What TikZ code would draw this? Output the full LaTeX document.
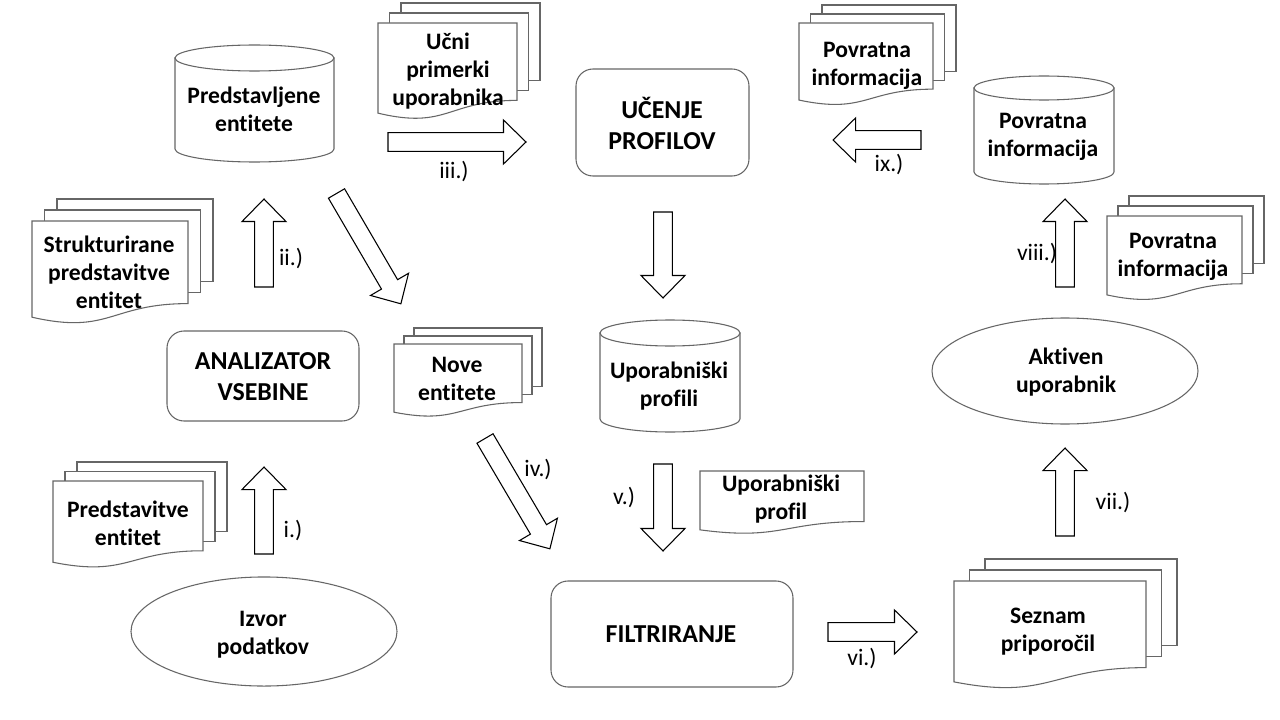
\documentclass[tikz,border=0pt]{standalone}
\usepackage{fontspec}
\setmainfont{Carlito}[Ligatures={NoCommon,NoContextual}]
\usetikzlibrary{calc}
\tikzset{
  shapeline/.style={draw=black!60, line width=0.8pt, fill=white},
  arrowline/.style={draw=black, line width=0.8pt, fill=white, line join=miter},
  doctext/.style={align=center, font=\fontsize{17.7}{21}\selectfont\bfseries, inner sep=0pt},
  boxtext/.style={align=center, font=\fontsize{19.4}{23.25}\selectfont\bfseries, inner sep=0pt},
  steplabel/.style={font=\fontsize{17.7}{21}\selectfont, inner sep=0pt},
}
% single document: x, y, w, h (pixels)
\newcommand\docshape[4]{%
  \path[shapeline] (#1,#2) -- ({#1+#3},#2) -- ({#1+#3},{#2+0.802*#4})
    .. controls ({#1+0.5*#3},{#2+0.802*#4}) and ({#1+0.5*#3},{#2+1.107*#4}) .. (#1,{#2+0.934*#4}) -- cycle;}
% multi document: x, y, w, h, dx, dy
\newcommand\multidoc[6]{%
  \path[shapeline] ({#1+2*#5},{#2-2*#6}) rectangle ({#1+#3+2*#5},{#2+0.802*#4-2*#6});
  \path[shapeline] ({#1+#5},{#2-#6}) rectangle ({#1+#3+#5},{#2+0.802*#4-#6});
  \docshape{#1}{#2}{#3}{#4}}
% cylinder: x, top y, w, total h, ry
\newcommand\cylshape[5]{%
  \path[shapeline] (#1,{#2+#5}) -- (#1,{#2+#4-#5})
    .. controls (#1,{#2+#4-#5+0.5523*#5}) and ({#1+#3/2-0.5523*#3/2},{#2+#4}) .. ({#1+#3/2},{#2+#4})
    .. controls ({#1+#3/2+0.5523*#3/2},{#2+#4}) and ({#1+#3},{#2+#4-#5+0.5523*#5}) .. ({#1+#3},{#2+#4-#5})
    -- ({#1+#3},{#2+#5}) -- cycle;
  \path[shapeline] ({#1+#3/2},{#2+#5}) ellipse [x radius={#3*0.375pt}, y radius={#5*0.75pt}];}
% block arrow from named coordinate to named coordinate
\newcommand\blockarrow[2]{%
  \draw[arrowline] let \p1=(#1), \p2=(#2), \n1={atan2(\y2-\y1,\x2-\x1)}, \n2={veclen(\x2-\x1,\y2-\y1)} in
    [shift={(\p1)}, rotate={\n1}]
    (0pt,-7pt) -- ({\n2*1pt-16.9pt},-7pt) -- ({\n2*1pt-16.9pt},-16.5pt) -- ({\n2*1pt},0pt)
    -- ({\n2*1pt-16.9pt},16.5pt) -- ({\n2*1pt-16.9pt},7pt) -- (0pt,7pt) -- cycle;}
\begin{document}
\begin{tikzpicture}[x=0.75pt, y=-0.75pt]
\path[fill=white, use as bounding box] (0,0) rectangle (1280,720);

% ---- shapes ----
\cylshape{175}{45}{159}{117}{13}
\multidoc{378}{23}{139}{96.5}{11.5}{10}
\draw[shapeline, rounded corners=12.75pt] (576,69) rectangle (749,176);
\multidoc{799}{23}{134}{82.5}{11.5}{9}
\cylshape{974}{76}{140}{108}{12}
\multidoc{32}{221}{156}{103}{12.5}{11}
\draw[shapeline, rounded corners=12.75pt] (167,331) rectangle (359,421);
\multidoc{394}{344}{128}{73}{10}{8}
\cylshape{600}{320}{140}{112}{13}
\multidoc{1107}{216}{135}{84.5}{11}{10}
\draw[shapeline] (1065,371) ellipse [x radius=99.75pt, y radius=39.75pt];
\multidoc{53}{481}{150}{87}{12}{9.5}
\draw[shapeline] (264,631.5) ellipse [x radius=99.75pt, y radius=40.9pt];
\docshape{700}{471}{164}{63}
\draw[shapeline, rounded corners=12.75pt] (551,581) rectangle (793,687);
\multidoc{954}{581}{192}{108}{15.5}{11}

% ---- texts ----
\node[doctext] (predst) at (254,109) {Predstavljene\\entitete};
\node[doctext] (ucni) at (448,71) {Učni\\primerki\\uporabnika};
\node[boxtext] (ucenje) at (662,123) {UČENJE\\PROFILOV};
\node[doctext] (povdoc1) at (867,66) {Povratna\\informacija};
\node[doctext] (povdb) at (1043,136.5) {Povratna\\informacija};
\node[doctext] (strukt) at (109,272) {Strukturirane\\predstavitve\\entitet};
\node[boxtext] (analiz) at (263,377) {ANALIZATOR\\VSEBINE};
\node[doctext] (nove) at (457,378.5) {Nove\\entitete};
\node[doctext] (uprof) at (669,386) {Uporabniški\\profili};
\node[doctext] (aktiven) at (1066,372.5) {Aktiven\\uporabnik};
\node[doctext] (povdoc2) at (1173,257) {Povratna\\informacija};
\node[doctext] (predstavitve) at (128,523) {Predstavitve\\entitet};
\node[doctext] (izvor) at (263,635) {Izvor\\podatkov};
\node[doctext] (uprofil) at (781,499) {Uporabniški\\profil};
\node[boxtext] (filtr) at (671,634) {FILTRIRANJE};
\node[doctext] (seznam) at (1048,632) {Seznam\\priporočil};

% ---- arrow end points ----
\coordinate (a1s) at (264,554);  \coordinate (a1e) at (264,467);
\coordinate (a2s) at (264,287);  \coordinate (a2e) at (264,199);
\coordinate (a3s) at (388,142);  \coordinate (a3e) at (526,142);
\coordinate (ads) at (336.5,193.5); \coordinate (ade) at (401,304);
\coordinate (a4s) at (485,438.5); \coordinate (a4e) at (550,549);
\coordinate (acs) at (663,212);  \coordinate (ace) at (663,298);
\coordinate (a5s) at (663,464);  \coordinate (a5e) at (663,551);
\coordinate (a6s) at (828,632);  \coordinate (a6e) at (917,632);
\coordinate (a7s) at (1065,536); \coordinate (a7e) at (1065,448);
\coordinate (a8s) at (1065,287); \coordinate (a8e) at (1065,199);
\coordinate (a9s) at (921,140);  \coordinate (a9e) at (833,140);

\blockarrow{a1s}{a1e}
\blockarrow{a2s}{a2e}
\blockarrow{a3s}{a3e}
\blockarrow{ads}{ade}
\blockarrow{a4s}{a4e}
\blockarrow{acs}{ace}
\blockarrow{a5s}{a5e}
\blockarrow{a6s}{a6e}
\blockarrow{a7s}{a7e}
\blockarrow{a8s}{a8e}
\blockarrow{a9s}{a9e}

% ---- step labels ----
\node[steplabel] (l1) at (293,531) {i.)};
\node[steplabel] (l2) at (291,259) {ii.)};
\node[steplabel] (l3) at (454,172) {iii.)};
\node[steplabel] (l4) at (538,470) {iv.)};
\node[steplabel] (l5) at (624,498) {v.)};
\node[steplabel] (l6) at (862,658) {vi.)};
\node[steplabel] (l7) at (1113,503) {vii.)};
\node[steplabel] (l8) at (1037,254) {viii.)};
\node[steplabel] (l9) at (889,165) {ix.)};
\end{tikzpicture}
\end{document}
